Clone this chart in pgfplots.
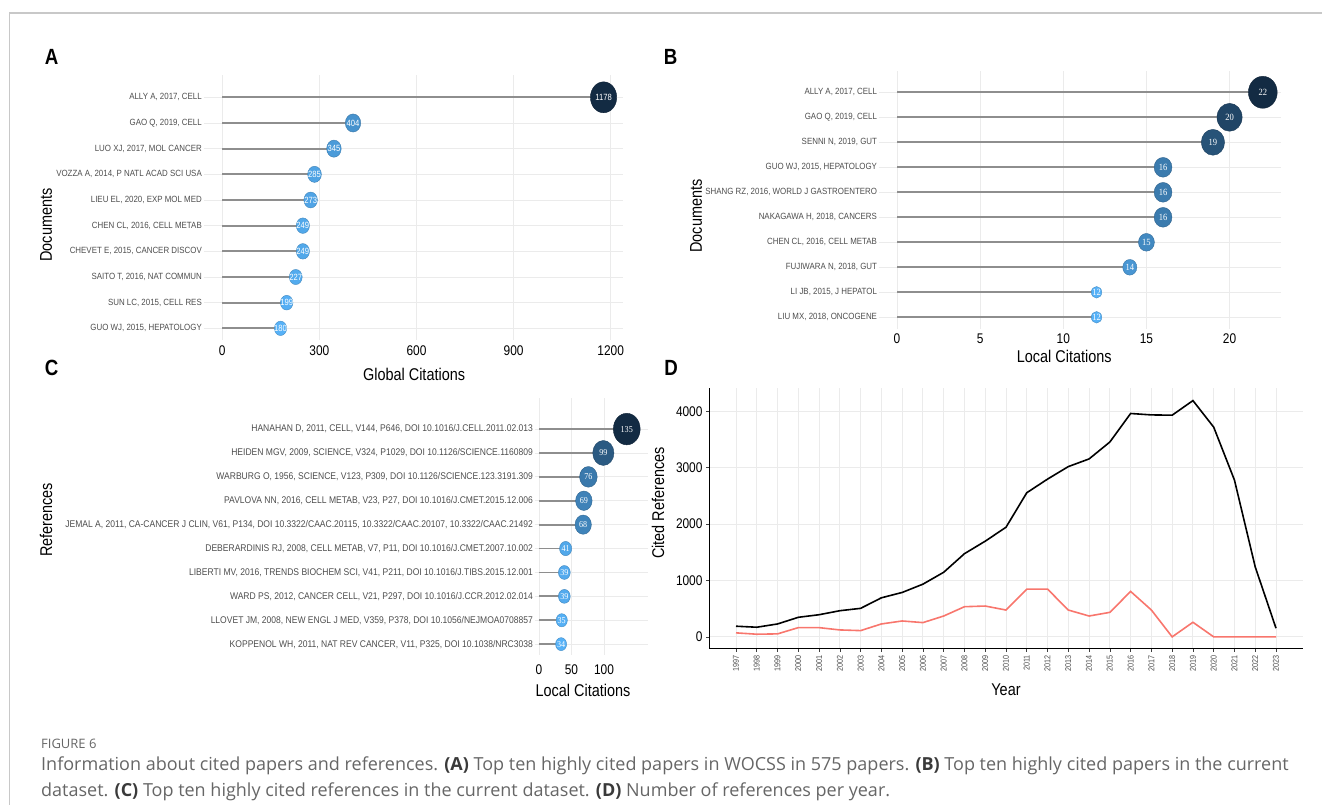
\documentclass[border=0pt]{standalone}
\usepackage{fontspec}
\setmainfont{Liberation Sans}[FakeStretch=0.85]
\newfontfamily\labfont{Liberation Sans}[FakeStretch=0.88]
\newfontfamily\numserif{Liberation Serif}[FakeStretch=0.9]
\newfontfamily\capfont{Open Sans}
\usepackage{pgfplots}
\usepackage{pgfplotstable}
\pgfplotsset{compat=1.18}

\definecolor{gridc}{HTML}{EBEBEB}
\definecolor{segc}{HTML}{8E8E8E}
\definecolor{labc}{HTML}{4D4D4D}
\definecolor{redl}{HTML}{F8766D}
\definecolor{framec}{HTML}{C8C8C8}
\definecolor{capc}{HTML}{666666}
\definecolor{capb}{HTML}{3A3A3A}

\pgfplotsset{
  colormap={gg}{rgb255=(86,177,247) rgb255=(19,43,67)},
  lolli/.style={
    scale only axis, clip=false,
    axis line style={draw=none},
    tick style={draw=none},
    major tick length=0pt,
    xmajorgrids, ymajorgrids,
    grid style={gridc, line width=0.9pt},
    ytick={1,...,10},
    yticklabel style={font=\labfont\fontsize{9}{10}\selectfont, text=labc, anchor=east, inner sep=0pt, xshift=-1.5pt},
    xticklabel style={font=\fontsize{14}{15}\selectfont, text=black, anchor=center},
    label style={font=\fontsize{17}{18}\selectfont},
    /pgf/number format/1000 sep={},
    /pgf/number format/assume math mode=true,
    colormap name=gg,
  },
  seg/.style={segc, line width=1.8pt, xcomb, mark=none, forget plot},
  vlabels/.style={only marks, mark=none, point meta=explicit, nodes near coords,
    every node near coord/.append style={anchor=center, text=white, inner sep=0pt, #1}},
}

\pgfplotstableread{
pos v
10 1178
9 404
8 345
7 285
6 273
5 249
4 249
3 227
2 199
1 180
}\tabA

\pgfplotstableread{
pos v
10 22
9 20
8 19
7 16
6 16
5 16
4 15
3 14
2 12
1 12
}\tabB

\pgfplotstableread{
pos v
10 135
9 99
8 76
7 69
6 68
5 41
4 39
3 39
2 35
1 34
}\tabC

\pgfplotstableread{
year total local
1997 189 71
1998 171 47
1999 229 53
2000 347 164
2001 393 164
2002 464 123
2003 506 111
2004 693 229
2005 788 282
2006 935 253
2007 1146 370
2008 1476 535
2009 1698 547
2010 1945 476
2011 2557 847
2012 2799 847
2013 3021 476
2014 3157 370
2015 3457 435
2016 3963 806
2017 3938 476
2018 3933 0
2019 4192 259
2020 3721 0
2021 2781 0
2022 1240 0
2023 153 0
}\tabD

\begin{document}
\begin{tikzpicture}[x=1pt,y=1pt]
\path[use as bounding box] (0,0) rectangle (1322,-805);
\draw[framec, line width=1.5pt] (9.5,-805) -- (9.5,-13) -- (1322,-13);

% ---------------- Panel A
\begin{axis}[lolli,
  at={(203.5pt,-75.5pt)}, anchor=north west,
  width=419.5pt, height=264.4pt,
  xmin=-58, xmax=1238, ymin=0.55, ymax=10.85,
  xtick={0,300,600,900,1200},
  xticklabel style={yshift=-10.8pt},
  yticklabels={{GUO WJ, 2015, HEPATOLOGY},{SUN LC, 2015, CELL RES},{SAITO T, 2016, NAT COMMUN},{CHEVET E, 2015, CANCER DISCOV},{CHEN CL, 2016, CELL METAB},{LIEU EL, 2020, EXP MOL MED},{VOZZA A, 2014, P NATL ACAD SCI USA},{LUO XJ, 2017, MOL CANCER},{GAO Q, 2019, CELL},{ALLY A, 2017, CELL}},
  xlabel={Global Citations}, ylabel={Documents},
  xlabel style={at={(axis description cs:0.502,-0.129)}, anchor=center},
  ylabel style={at={(axis description cs:-0.3754,0.4346)}, anchor=center},
  point meta min=180, point meta max=1178,
]
\addplot[seg] table[x=v,y=pos] \tabA;
\addplot[scatter, only marks, mark=*, scatter src=explicit,
  visualization depends on={7.2+0.0083*(\thisrow{v}-180) \as \rad},
  scatter/@pre marker code/.append style={/tikz/mark size=\rad},
  mark options={xscale=0.85}] table[x=v,y=pos,meta=v] \tabA;
\addplot[vlabels={font=\fontsize{9}{9}\selectfont}] table[x=v,y=pos,meta=v] \tabA;
\end{axis}

% ---------------- Panel B
\begin{axis}[lolli,
  at={(878.7pt,-71.05pt)}, anchor=north west,
  width=402.4pt, height=257.5pt,
  xmin=-1.1, xmax=23.1, ymin=0.55, ymax=10.85,
  xtick={0,5,10,15,20},
  xticklabel style={yshift=-10.5pt},
  yticklabels={{LIU MX, 2018, ONCOGENE},{LI JB, 2015, J HEPATOL},{FUJIWARA N, 2018, GUT},{CHEN CL, 2016, CELL METAB},{NAKAGAWA H, 2018, CANCERS},{SHANG RZ, 2016, WORLD J GASTROENTERO},{GUO WJ, 2015, HEPATOLOGY},{SENNI N, 2019, GUT},{GAO Q, 2019, CELL},{ALLY A, 2017, CELL}},
  xlabel={Local Citations}, ylabel={Documents},
  xlabel style={at={(axis description cs:0.461,-0.1066)}, anchor=center},
  ylabel style={at={(axis description cs:-0.454,0.437)}, anchor=center},
  point meta min=12, point meta max=22,
]
\addplot[seg] table[x=v,y=pos] \tabB;
\addplot[scatter, only marks, mark=*, scatter src=explicit,
  visualization depends on={5.8+1.02*(\thisrow{v}-12) \as \rad},
  scatter/@pre marker code/.append style={/tikz/mark size=\rad},
  mark options={xscale=0.9}] table[x=v,y=pos,meta=v] \tabB;
\addplot[vlabels={font=\numserif\fontsize{9.5}{9.5}\selectfont}] table[x=v,y=pos,meta=v] \tabB;
\end{axis}

% ---------------- Panel C
\begin{axis}[lolli,
  at={(534.6pt,-398pt)}, anchor=north west,
  width=113.6pt, height=256.9pt,
  xmin=-6.75, xmax=168, ymin=0.55, ymax=11.3,
  xtick={0,50,100},
  xticklabel style={yshift=-15pt},
  yticklabel style={font=\labfont\fontsize{9.7}{10}\selectfont},
  yticklabels={{KOPPENOL WH, 2011, NAT REV CANCER, V11, P325, DOI 10.1038/NRC3038},{LLOVET JM, 2008, NEW ENGL J MED, V359, P378, DOI 10.1056/NEJMOA0708857},{WARD PS, 2012, CANCER CELL, V21, P297, DOI 10.1016/J.CCR.2012.02.014},{LIBERTI MV, 2016, TRENDS BIOCHEM SCI, V41, P211, DOI 10.1016/J.TIBS.2015.12.001},{DEBERARDINIS RJ, 2008, CELL METAB, V7, P11, DOI 10.1016/J.CMET.2007.10.002},{JEMAL A, 2011, CA-CANCER J CLIN, V61, P134, DOI 10.3322/CAAC.20115, 10.3322/CAAC.20107, 10.3322/CAAC.21492},{PAVLOVA NN, 2016, CELL METAB, V23, P27, DOI 10.1016/J.CMET.2015.12.006},{WARBURG O, 1956, SCIENCE, V123, P309, DOI 10.1126/SCIENCE.123.3191.309},{HEIDEN MGV, 2009, SCIENCE, V324, P1029, DOI 10.1126/SCIENCE.1160809},{HANAHAN D, 2011, CELL, V144, P646, DOI 10.1016/J.CELL.2011.02.013}},
  xlabel={Local Citations}, ylabel={References},
  xlabel style={at={(axis description cs:0.426,-0.1366)}, anchor=center},
  ylabel style={at={(axis description cs:-4.301,0.525)}, anchor=center},
  point meta min=34, point meta max=135,
]
\addplot[seg] table[x=v,y=pos] \tabC;
\addplot[scatter, only marks, mark=*, scatter src=explicit,
  visualization depends on={6.5+0.092*(\thisrow{v}-34) \as \rad},
  scatter/@pre marker code/.append style={/tikz/mark size=\rad},
  mark options={xscale=0.85}] table[x=v,y=pos,meta=v] \tabC;
\addplot[vlabels={font=\numserif\fontsize{9}{9}\selectfont}] table[x=v,y=pos,meta=v] \tabC;
\end{axis}

% ---------------- Panel D
\begin{axis}[
  at={(709pt,-388.3pt)}, anchor=north west,
  scale only axis, width=594pt, height=260.4pt,
  xmin=1995.7, xmax=2024.3, ymin=-210, ymax=4410,
  axis lines=left, axis line style={-, black, line width=0.8pt},
  xtick={1997,...,2023}, ytick={0,1000,2000,3000,4000},
  xmajorgrids, ymajorgrids, grid style={gridc, line width=0.9pt},
  tick align=outside, major tick length=3pt, tick style={black!75, line width=0.6pt},
  xticklabel style={rotate=90, anchor=east, font=\fontsize{8.5}{8.5}\selectfont, text=labc},
  yticklabel style={font=\fontsize{14}{15}\selectfont, text=black},
  label style={font=\fontsize{17}{18}\selectfont},
  /pgf/number format/1000 sep={},
  /pgf/number format/assume math mode=true,
  xlabel={Year}, ylabel={Cited References},
  xlabel style={at={(axis description cs:0.5,-0.1586)}, anchor=center},
  ylabel style={at={(axis description cs:-0.0859,0.5595)}, anchor=center},
]
\addplot[black, line width=1.6pt] table[x=year,y=total] \tabD;
\addplot[redl, line width=1.6pt] table[x=year,y=local] \tabD;
\end{axis}

% ---------------- Panel letters
\node[font=\bfseries\fontsize{22}{22}\selectfont] at (51.7,-57.3) {A};
\node[font=\bfseries\fontsize{22}{22}\selectfont] at (670.7,-57.3) {B};
\node[font=\bfseries\fontsize{22}{22}\selectfont] at (51.7,-367.7) {C};
\node[font=\bfseries\fontsize{22}{22}\selectfont] at (671,-367.7) {D};

% ---------------- Caption
\node[anchor=base west, inner sep=0pt, text=capc, font=\capfont\fontsize{13}{13}\selectfont] at (41,-748) {FIGURE 6};
\node[anchor=base west, inner sep=0pt, text=capc, font=\capfont\fontsize{18}{18}\selectfont] at (41,-770) {Information about cited papers and references. {\color{capb}\bfseries(A)} Top ten highly cited papers in WOCSS in 575 papers. {\color{capb}\bfseries(B)} Top ten highly cited papers in the current};
\node[anchor=base west, inner sep=0pt, text=capc, font=\capfont\fontsize{18}{18}\selectfont] at (41,-796) {dataset. {\color{capb}\bfseries(C)} Top ten highly cited references in the current dataset. {\color{capb}\bfseries(D)} Number of references per year.};
\end{tikzpicture}
\end{document}
